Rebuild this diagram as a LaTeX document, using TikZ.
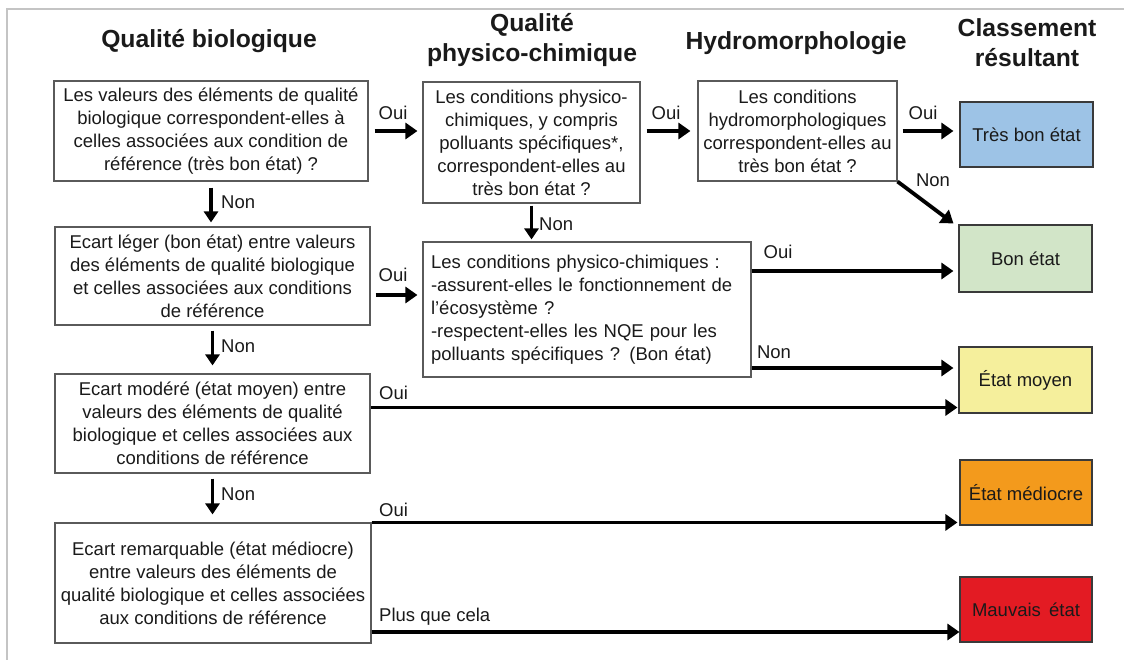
\documentclass[tikz,border=0pt]{standalone}
\usepackage{fontspec}
\setmainfont{Liberation Sans}
\usetikzlibrary{arrows.meta,calc}
\newcommand\bodyfont{\fontsize{18.5pt}{23pt}\selectfont}
\newcommand\headfont{\fontsize{24.7pt}{30pt}\selectfont\bfseries}
\definecolor{boxgray}{HTML}{5A5A5A}
\definecolor{cbord}{HTML}{3A3A3A}
\definecolor{txt}{HTML}{1A1A1A}
\definecolor{framecol}{HTML}{C4C4C4}
\definecolor{cblue}{HTML}{9DC3E6}
\definecolor{cgreen}{HTML}{D2E5C8}
\definecolor{cyellow}{HTML}{F5EF9C}
\definecolor{corange}{HTML}{F39A1C}
\definecolor{cred}{HTML}{E31B23}
\begin{document}
\begin{tikzpicture}[x=1pt,y=-1pt,
  qbox/.style={draw=boxgray,line width=1.1pt,fill=white,align=center,inner sep=1pt,font=\bodyfont,text=txt},
  cbox/.style={draw=cbord,line width=1.1pt,align=center,font=\bodyfont,text=txt,minimum width=133pt,minimum height=66pt,inner sep=1pt},
  arr/.style={line width=3.8pt,-{Triangle[length=12pt,width=16pt]}},
  darr/.style={line width=3.4pt,-{Triangle[length=11pt,width=14pt]}},
  lab/.style={font=\bodyfont,text=txt,inner sep=0pt},
  head/.style={font=\headfont,text=txt,inner sep=0pt,align=center}]

\useasboundingbox (0,0) rectangle (1124,660);
\draw[framecol,line width=1.5pt] (7,660) -- (7,9) -- (1124,9);

% headers
\node[head] (hbio) at (209,41) {Qualité biologique};
\node[head] (hpc) at (532,40) {Qualité\\physico-chimique};
\node[head] (hhy) at (796,43) {Hydromorphologie};
\node[head] (hcl) at (1027,43) {Classement\\résultant};

% biological column
\node[qbox,minimum width=314pt,minimum height=100pt] (b1) at (211,131)
  {Les valeurs des éléments de qualité\\biologique correspondent-elles à\\celles associées aux condition de\\référence (très bon état) ?};
\node[qbox,minimum width=315pt,minimum height=98pt] (b2) at (212.5,276)
  {Ecart léger (bon état) entre valeurs\\des éléments de qualité biologique\\et celles associées aux conditions\\de référence};
\node[qbox,minimum width=315pt,minimum height=99pt] (b3) at (212.5,423.5)
  {Ecart modéré (état moyen) entre\\valeurs des éléments de qualité\\biologique et celles associées aux\\conditions de référence};
\node[qbox,minimum width=316pt,minimum height=120pt] (b4) at (213,583)
  {Ecart remarquable (état médiocre)\\entre valeurs des éléments de\\qualité biologique et celles associées\\aux conditions de référence};

% physico-chemical column
\node[qbox,minimum width=217pt,minimum height=121pt] (pc1) at (531.5,142.5)
  {Les conditions physico-\\chimiques, y compris\\polluants spécifiques*,\\correspondent-elles au\\très bon état ?};
\node[qbox,align=left,text width=312pt,inner xsep=8pt,minimum height=135pt] (pc2) at (587,309.5)
  {Les conditions physico-chimiques :\\-assurent-elles le fonctionnement de\\l'écosystème ?\\-respectent-elles les NQE pour les\\polluants spécifiques ? (Bon état)};

% hydromorphology
\node[qbox,minimum width=199pt,minimum height=100pt] (h) at (797.5,131)
  {Les conditions\\hydromorphologiques\\correspondent-elles au\\très bon état ?};

% result boxes
\node[cbox,fill=cblue,minimum height=65pt] (tbe) at (1026.5,134.5) {Très bon état};
\node[cbox,fill=cgreen,minimum height=67pt] (be) at (1025.5,258.5) {Bon état};
\node[cbox,fill=cyellow] (em) at (1025.5,380) {État moyen};
\node[cbox,fill=corange,minimum width=132pt,minimum height=65pt] (emd) at (1026,492.5) {État médiocre};
\node[cbox,fill=cred,minimum width=132pt,minimum height=65pt] (mv) at (1026,609.5) {Mauvais\, état};

% arrows
\draw[arr,shorten <=6pt,shorten >=5pt] (b1.east) -- (b1.east -| pc1.west);
\coordinate (o2) at ($(b2.east)+(0,19)$);
\draw[arr,shorten <=5pt,shorten >=5pt] (o2) -- (o2 -| pc2.west);
\draw[arr,shorten <=6pt,shorten >=7pt] (pc1.east |- h.west) -- (h.west);
\draw[arr,shorten <=5pt,shorten >=6pt] (h.east) -- (h.east -| tbe.west);
\draw[arr] (h.south east) -- ([xshift=-5pt,yshift=1pt]be.north west);
\draw[darr,shorten <=2pt,shorten >=2pt] (pc1.south) -- (pc1.south |- pc2.north);
\coordinate (o3) at ($(pc2.east)+(0,-38.5)$);
\draw[arr,shorten >=5pt] (o3) -- (o3 -| be.west);
\coordinate (o4) at ($(pc2.east)+(0,58.5)$);
\draw[arr,shorten >=5pt] (o4) -- (o4 -| em.west);
\coordinate (o5) at ($(b3.east)+(0,-16)$);
\draw[arr,shorten >=1pt] (o5) -- (o5 -| em.west);
\draw[arr,shorten >=2pt] (b4.north east) -- (b4.north east -| emd.west);
\coordinate (o6) at ($(b4.east)+(0,49)$);
\draw[arr] (o6) -- (o6 -| mv.west);
\draw[darr,shorten <=6pt,shorten >=4pt] (b1.south) -- (b1.south |- b2.north);
\draw[darr,shorten <=5pt,shorten >=8pt] (b2.south) -- (b2.south |- b3.north);
\draw[darr,shorten <=5pt,shorten >=8pt] (b3.south) -- (b3.south |- b4.north);

% labels
\node[lab] (l1) at (393,113) {Oui};
\node[lab,anchor=west] (l2) at (221,202) {Non};
\node[lab] (l3) at (393,275) {Oui};
\node[lab,anchor=west] (l4) at (221,346) {Non};
\node[lab,anchor=west] (l5) at (379,393) {Oui};
\node[lab,anchor=west] (l6) at (221,494) {Non};
\node[lab,anchor=west] (l7) at (379,510) {Oui};
\node[lab,anchor=west] (l8) at (379,617) {Plus que cela};
\node[lab,anchor=west] (l9) at (539,224) {Non};
\node[lab] (l10) at (666,113) {Oui};
\node[lab] (l11) at (923,113) {Oui};
\node[lab] (l12) at (933,180) {Non};
\node[lab] (l13) at (778,252) {Oui};
\node[lab] (l14) at (774,352) {Non};
\end{tikzpicture}
\end{document}
